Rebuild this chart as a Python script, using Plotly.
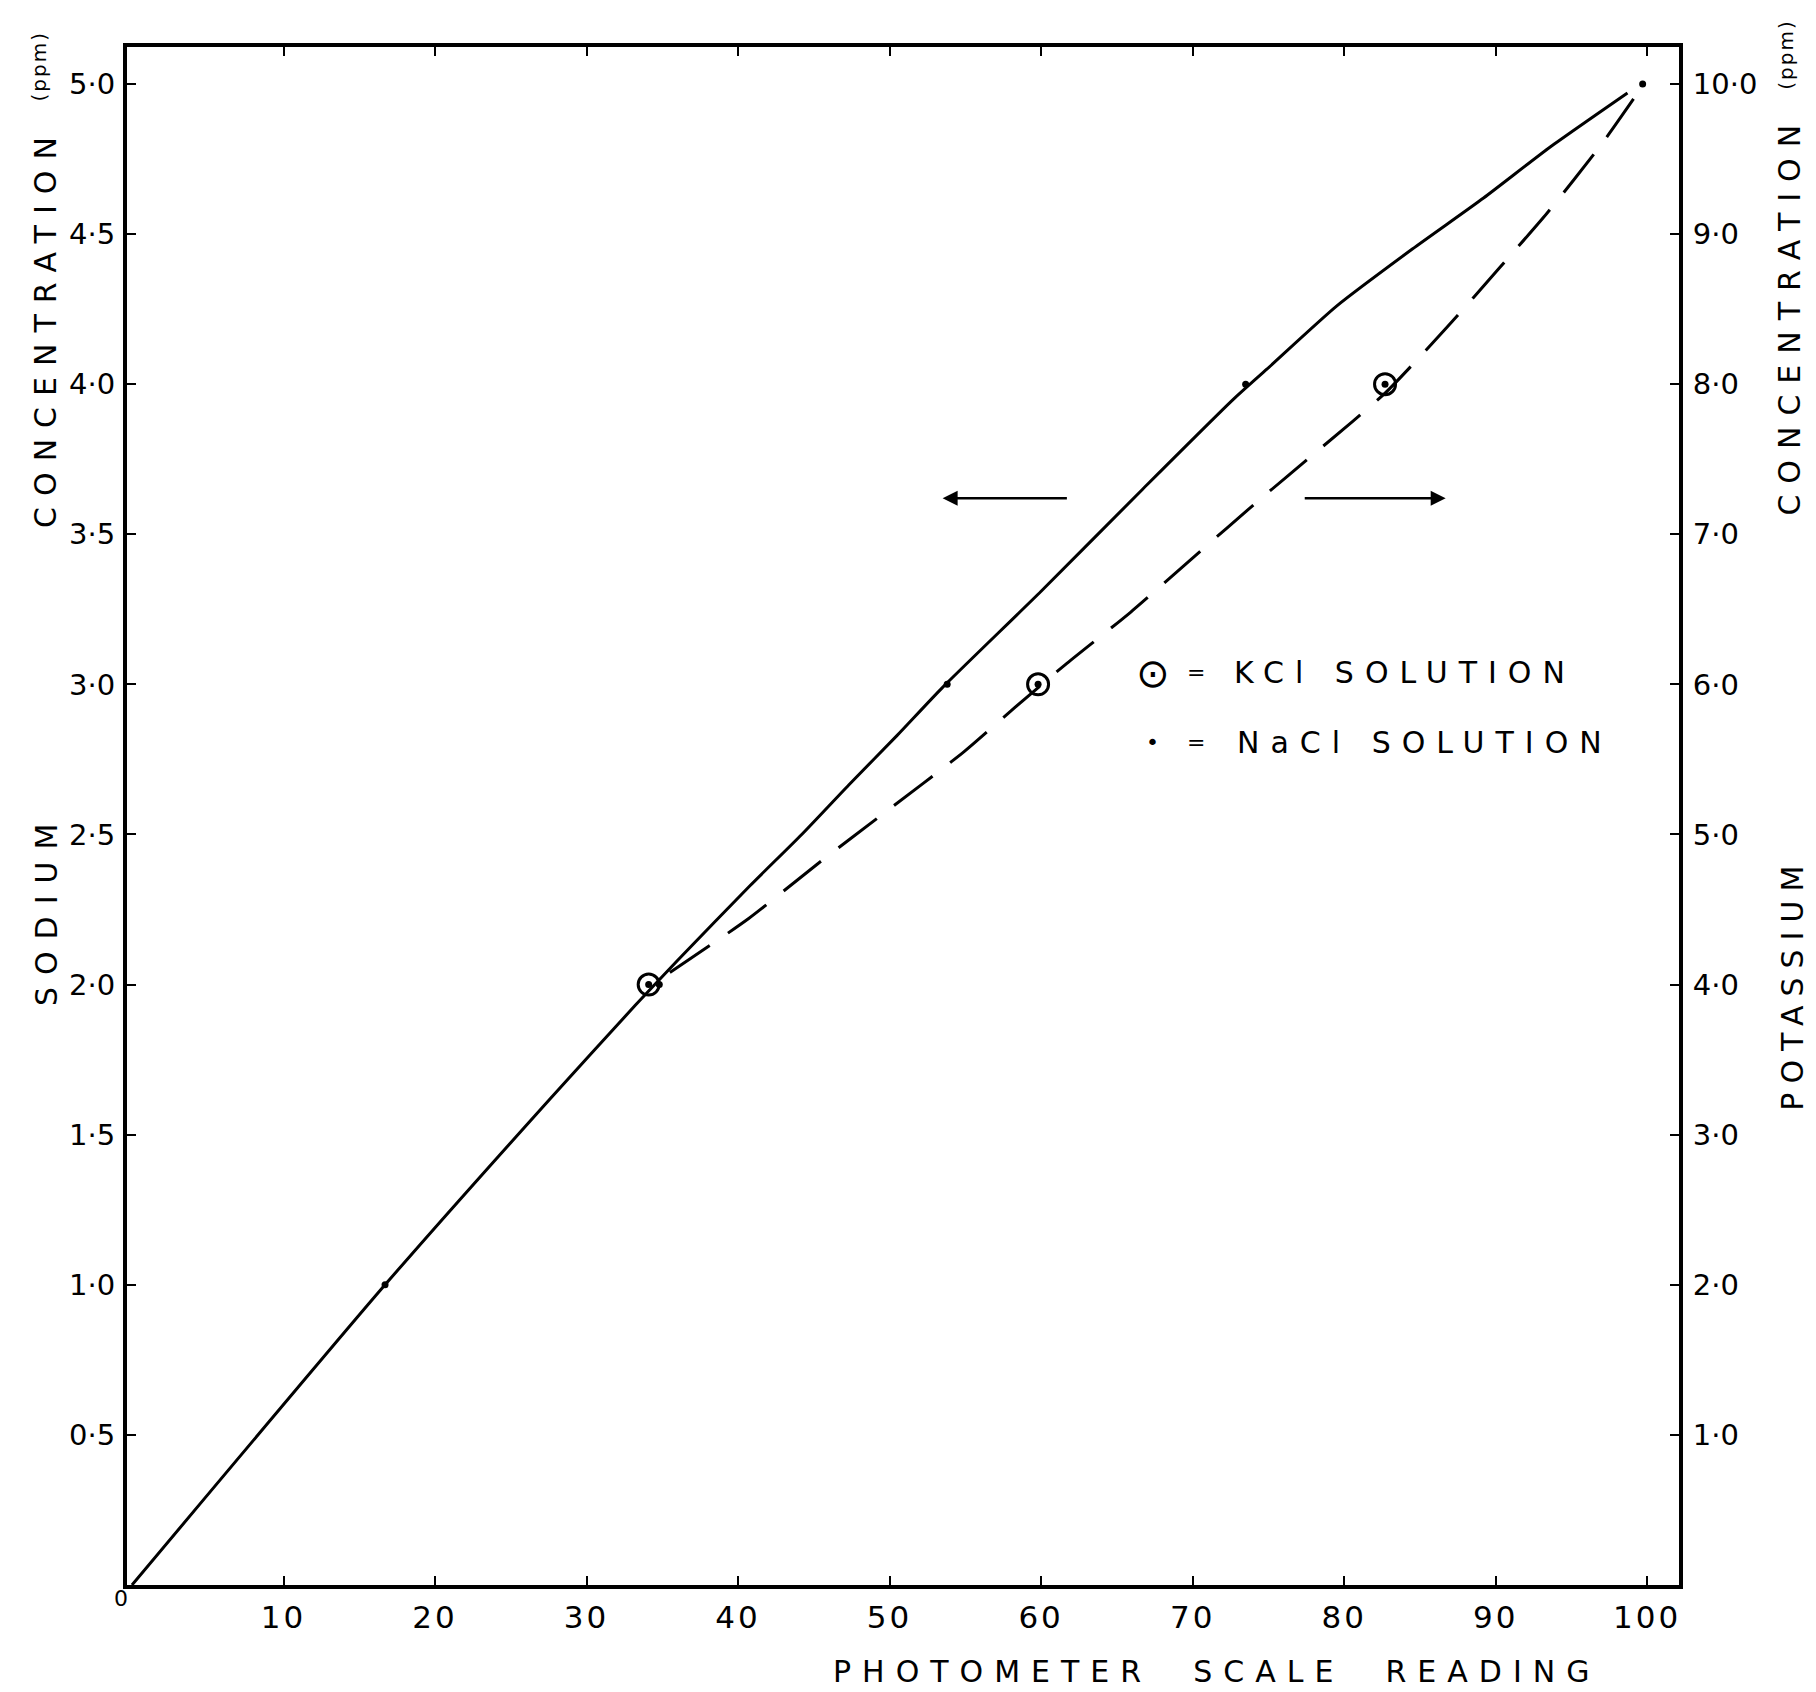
import plotly.graph_objects as go

# ---- data ----
# Sodium calibration curve (left axis, ppm Na)
na_curve_x = [0, 16.7, 27.6, 33.2, 36.0, 40.8, 44.2, 47.4, 50.5, 53.5, 60.0, 66.7, 72.7, 74.9, 79.5, 84.5, 89.2, 93.6, 98.7]
na_curve_y = [0, 1.0, 1.62, 1.93, 2.08, 2.33, 2.50, 2.67, 2.83, 2.99, 3.31, 3.65, 3.95, 4.05, 4.26, 4.45, 4.62, 4.79, 4.97]

# Potassium calibration curve (right axis, ppm K)
k_curve_x = [35.5, 40.7, 45.2, 49.6, 54.9, 58.2, 61.7, 65.9, 70.2, 74.3, 78.3, 82.7, 86.8, 90.3, 93.4, 97.0, 99.1]
k_curve_y = [4.08, 4.44, 4.80, 5.14, 5.55, 5.84, 6.14, 6.48, 6.86, 7.22, 7.56, 7.94, 8.38, 8.78, 9.14, 9.60, 9.90]

# Measured points
kcl_x = [34.1, 59.8, 82.7]
kcl_y = [4.0, 6.0, 8.0]          # right axis (K ppm)
nacl_x = [16.7, 34.8, 53.8, 73.5, 99.7]
nacl_y = [1.0, 2.0, 3.0, 4.0, 5.0]  # left axis (Na ppm)

# Ticks
x_ticks = [10, 20, 30, 40, 50, 60, 70, 80, 90, 100]
x_ticklabels = ["10", "20", "30", "40", "50", "60", "70", "80", "90", "100"]
y_ticks = [0.5, 1.0, 1.5, 2.0, 2.5, 3.0, 3.5, 4.0, 4.5, 5.0]
y_ticklabels = ["0·5", "1·0", "1·5", "2·0", "2·5", "3·0", "3·5", "4·0", "4·5", "5·0"]
y2_ticks = [1, 2, 3, 4, 5, 6, 7, 8, 9, 10]
y2_ticklabels = ["1·0", "2·0", "3·0", "4·0", "5·0", "6·0", "7·0", "8·0", "9·0", "10·0"]

FONT = "DejaVu Sans"
INK = "black"


def spaced(t, s):
    return f'<span style="letter-spacing:{s}px">{t}</span>'


fig = go.Figure()

fig.add_trace(go.Scatter(x=na_curve_x, y=na_curve_y, mode="lines",
                         line=dict(color=INK, width=3, shape="spline", smoothing=0.6),
                         yaxis="y", hoverinfo="skip"))
fig.add_trace(go.Scatter(x=k_curve_x, y=k_curve_y, mode="lines",
                         line=dict(color=INK, width=3, dash="48px,22px", shape="spline", smoothing=0.6),
                         yaxis="y2", hoverinfo="skip"))
fig.add_trace(go.Scatter(x=kcl_x, y=kcl_y, mode="markers", yaxis="y2",
                         marker=dict(symbol="circle-open", size=21, color=INK, line=dict(width=3, color=INK))))
fig.add_trace(go.Scatter(x=kcl_x, y=kcl_y, mode="markers", yaxis="y2",
                         marker=dict(symbol="circle", size=7, color=INK)))
fig.add_trace(go.Scatter(x=nacl_x, y=nacl_y, mode="markers", yaxis="y",
                         marker=dict(symbol="circle", size=7, color=INK)))

axis_common = dict(showgrid=False, zeroline=False, showline=True, linecolor=INK, linewidth=4,
                   ticks="inside", ticklen=9, tickwidth=2, tickcolor=INK)

# page body has an 8px margin, so the figure is 8px smaller and offsets account for it
fig.update_layout(
    width=1808, height=1684,
    margin=dict(l=119, r=137, t=39, b=107),
    plot_bgcolor="white", paper_bgcolor="white",
    showlegend=False,
    xaxis=dict(range=[-0.33, 102.1], mirror="ticks", tickvals=x_ticks,
               ticktext=[spaced(t, 3) for t in x_ticklabels], ticklabelstandoff=2,
               tickfont=dict(family=FONT, size=31, color=INK), **axis_common),
    yaxis=dict(range=[0, 5.123], mirror=True, tickvals=y_ticks,
               ticktext=y_ticklabels, ticklabelstandoff=2,
               tickfont=dict(family=FONT, size=29, color=INK), **axis_common),
    yaxis2=dict(range=[0, 10.246], overlaying="y", side="right", tickvals=y2_ticks,
                ticktext=y2_ticklabels, ticklabelstandoff=4,
                tickfont=dict(family=FONT, size=29, color=INK), **axis_common),
)

ann = []
title_font = dict(family=FONT, size=30, color=INK)
small_font = dict(family=FONT, size=20, color=INK)
# Left axis title
ann.append(dict(text=spaced("SODIUM", 12), x=-0.0522, y=0.4395, textangle=-90, font=title_font))
ann.append(dict(text=spaced("CONCENTRATION", 11), x=-0.0522, y=0.818, textangle=-90, font=title_font))
ann.append(dict(text=spaced("(ppm)", 2), x=-0.057, y=0.987, textangle=-90, font=small_font))
# Right axis title
ann.append(dict(text=spaced("POTASSIUM", 9), x=1.0735, y=0.391, textangle=-90, font=title_font))
ann.append(dict(text=spaced("CONCENTRATION", 11), x=1.0715, y=0.826, textangle=-90, font=title_font))
ann.append(dict(text=spaced("(ppm)", 2), x=1.069, y=0.995, textangle=-90, font=small_font))
# X axis title
ann.append(dict(text=spaced("PHOTOMETER&nbsp;&nbsp;SCALE&nbsp;&nbsp;READING", 11), x=0.702, y=-0.056, font=title_font))
# Origin label
ann.append(dict(text="0", x=0, y=0, xref="x", yref="y", xshift=-11, yshift=-13,
                font=dict(family=FONT, size=22, color=INK), showarrow=False))
# Key
ann.append(dict(text="⊙", x=0.661, y=0.593, font=dict(family=FONT, size=40, color=INK)))
ann.append(dict(text="=", x=0.689, y=0.593, font=dict(family=FONT, size=22, color=INK)))
ann.append(dict(text=spaced("KCl&nbsp;SOLUTION", 11), x=0.712, y=0.593, xanchor="left", font=title_font))
ann.append(dict(text="•", x=0.661, y=0.548, font=dict(family=FONT, size=22, color=INK)))
ann.append(dict(text="=", x=0.689, y=0.548, font=dict(family=FONT, size=22, color=INK)))
ann.append(dict(text=spaced("NaCl&nbsp;SOLUTION", 11), x=0.714, y=0.548, xanchor="left", font=title_font))

for a in ann:
    a.setdefault("xref", "paper")
    a.setdefault("yref", "paper")
    a.setdefault("showarrow", False)
    a.setdefault("xanchor", "center")
    a.setdefault("yanchor", "middle")
    fig.add_annotation(**a)

# Direction arrows
fig.add_annotation(x=53.5, y=3.62, ax=61.8, ay=3.62, xref="x", yref="y", axref="x", ayref="y",
                   text="", showarrow=True, arrowhead=2, arrowsize=1.2, arrowwidth=2.5, arrowcolor=INK)
fig.add_annotation(x=86.7, y=3.62, ax=77.3, ay=3.62, xref="x", yref="y", axref="x", ayref="y",
                   text="", showarrow=True, arrowhead=2, arrowsize=1.2, arrowwidth=2.5, arrowcolor=INK)

fig.write_html("out.html")
